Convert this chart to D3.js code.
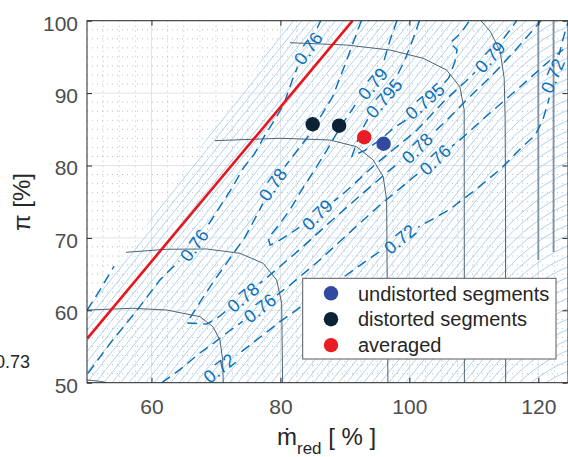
<!DOCTYPE html>
<html><head><meta charset="utf-8">
<script src="https://cdn.jsdelivr.net/npm/d3@7"></script>
<style>
body{margin:0;background:#fff}
svg{display:block}
text{font-family:"Liberation Sans",Arial,Helvetica,sans-serif}
</style>
</head><body>
<svg id="chart" width="568" height="457"></svg>
<script>
// ---------------- data ----------------
const xDomain = [50, 124.6];
const yDomain = [50, 100];
const xTicks = [60, 80, 100, 120];
const yTicks = [50, 60, 70, 80, 90, 100];
const xMinorStep = 2.5, yMinorStep = 1.25;

const surgeLine = [[50.05, 56.13], [91.19, 100]];
const undistorted = [[96.0, 83.0]];
const distorted = [[85.0, 85.7], [89.1, 85.5]];
const averaged = [[93.0, 83.9]];
const legendNames = ["undistorted segments", "distorted segments", "averaged"];

// speed lines
const speedA = [[50.0, 50.37], [52.0, 50.2], [53.1, 50.0]];
const speedB = [[50.05, 60.04], [57.13, 60.28], [62.36, 60.04], [67.52, 59.12], [69.53, 57.73], [70.62, 55.90], [71.04, 53.14], [71.13, 50.0]];
const speedC = [[56.05, 68.01], [62.36, 68.43], [68.56, 68.47], [73.72, 67.87], [77.33, 66.49], [79.41, 64.19], [80.19, 60.97], [80.34, 50.0]];
const speedD = [[69.84, 83.43], [79.92, 83.76], [87.67, 83.52], [91.81, 82.60], [94.39, 80.76], [95.94, 78.45], [96.47, 75.23], [96.67, 50.0]];
const speedE = [[81.47, 96.96], [90.26, 96.64], [96.98, 95.95], [102.14, 94.81], [105.77, 93.19], [107.83, 90.88], [108.50, 87.67], [108.53, 50.0]];
const speedF = [[110.73, 100.37], [112.53, 98.54], [114.08, 95.77], [114.70, 92.09], [114.85, 86.56], [114.91, 74.96], [114.93, 50.0]];
const chokeG = [[120.0, 100.2], [120.0, 66.95]];
const chokeH = [[122.36, 100.2], [122.36, 68.05]];

// efficiency contours
const eta073 = [[50.0, 60.0], [52.0, 62.8], [54.2, 66.1]];
const eta076a = [[50.16, 51.3], [53.9, 55.8], [57.75, 60.0], [61.3, 64.2], [63.95, 66.5], [66.6, 69.0], [69.1, 72.2], [72.2, 76.5], [74.3, 79.7], [75.9, 81.5], [77.6, 84.2], [79.0, 86.15], [80.5, 88.4], [81.8, 91.7], [82.6, 93.5], [84.3, 96.2], [85.7, 99.0], [86.3, 100.1]];
const eta076b = [[61.6, 50.0], [64.4, 51.8], [67.5, 54.1], [69.7, 55.5], [71.7, 56.9], [74.5, 58.7], [76.8, 60.3], [81.5, 63.5], [86.1, 66.95], [90.8, 70.8], [95.4, 74.5], [100.1, 78.0], [104.0, 80.8], [107.8, 83.5], [112.5, 87.25], [117.1, 90.8], [121.0, 93.9], [124.6, 96.6]];
const eta078 = [[92.6, 100.1], [92.0, 98.7], [90.3, 94.6], [88.1, 89.5], [86.4, 87.0], [84.1, 83.8], [81.5, 80.8], [78.8, 77.6], [76.8, 73.9], [74.5, 70.1], [72.2, 67.2], [69.8, 64.2], [67.5, 61.1], [65.5, 58.25], [68.6, 58.1], [70.6, 59.2], [72.5, 60.6], [74.2, 61.8], [78.4, 64.9], [83.0, 68.4], [87.7, 72.2], [92.3, 75.8], [97.0, 79.4], [101.2, 82.4], [105.5, 86.0], [109.4, 89.5], [113.3, 92.9], [117.1, 96.6], [120.5, 100.1]];
const eta079 = [[98.1, 100.1], [97.0, 97.3], [96.0, 94.3], [94.3, 91.3], [92.6, 89.7], [91.1, 87.7], [89.2, 85.2], [87.4, 82.4], [85.3, 79.4], [83.0, 76.2], [81.5, 73.9], [79.6, 71.6], [78.1, 70.0], [78.4, 69.0], [79.1, 69.3], [79.9, 69.7], [82.1, 70.95], [85.7, 73.2], [90.0, 76.3], [94.65, 80.1], [101.2, 84.9], [105.5, 89.0], [108.6, 91.5], [110.9, 93.5], [112.5, 95.0], [114.0, 96.8], [115.6, 98.7], [116.7, 100.1]];
const eta0795 = [[101.6, 100.1], [100.5, 97.3], [99.3, 94.6], [97.75, 91.8], [96.05, 89.3], [94.2, 87.4], [92.6, 84.9], [91.7, 82.8], [91.1, 81.3], [93.1, 82.1], [95.4, 83.5], [97.6, 85.2], [99.15, 86.1], [102.4, 88.9], [104.7, 90.7], [106.1, 92.1], [107.05, 94.3], [107.4, 96.0], [106.3, 96.9], [108.1, 98.4], [109.4, 100.1]];
const eta072 = [[68.3, 50.0], [70.5, 52.0], [75.3, 55.2], [79.9, 58.4], [84.6, 61.4], [89.2, 64.2], [93.1, 66.7], [96.2, 68.6], [98.5, 69.85], [101.6, 71.6], [106.1, 73.85], [110.2, 76.6], [114.0, 79.4], [117.1, 82.2], [119.5, 84.2], [120.7, 86.3], [121.6, 89.0], [122.4, 92.4], [123.2, 95.3], [124.0, 98.0], [124.6, 99.8]];

// contour labels: text, position, angle
const labelTexts = ["0.76", "0.79", "0.795", "0.795", "0.78", "0.76", "0.79", "0.72", "0.78", "0.79", "0.76", "0.78", "0.76", "0.72", "0.72"];
const labelPos = [[84.3, 96.2], [94.3, 91.3], [96.05, 89.3], [102.4, 88.9], [101.2, 82.4], [104.0, 80.8], [112.5, 95.0], [122.2, 92.4], [78.8, 77.4], [85.7, 73.2], [66.6, 69.0], [74.2, 61.8], [76.8, 60.3], [70.5, 52.0], [98.5, 69.85]];
const labelAngles = [-54, -50, -49, -41, -45, -43, -47, -67, -55, -45, -54, -40, -38, -39, -40];

// light-blue line family: mass flow where each line meets pi = 50
const hatchIntercepts = [37.0, 38.3, 39.6, 40.9, 42.2, 43.5, 44.8, 46.1, 47.4, 48.7, 50.0, 51.3, 52.6, 53.9, 55.2, 56.5, 57.8, 59.1, 60.4, 61.7, 63.0, 64.3, 65.6, 66.9, 68.2, 69.5, 70.8, 72.1, 73.4, 74.7, 76.0, 77.3, 78.6, 79.9, 81.2, 82.5, 83.8, 85.1, 86.4, 87.7, 89.0, 90.3, 91.6, 92.9, 94.2, 95.5, 96.8, 98.1, 99.4, 100.7, 102.0, 103.3, 104.6, 105.9, 107.2, 108.5, 109.8, 111.1, 112.4, 113.7, 115.0, 116.3, 117.6, 118.9, 120.2, 121.5, 122.8, 124.1];
const hatchSlope = 1.11, hatchBend = 112, hatchCurv = 0.03;
const hatchBoundary = [[42.2, 50], [81.3, 100]];

// ---------------- drawing ----------------
const W = 568, H = 457;
const PL = 87, PR = 568, PT = 20.7, PB = 382.7;
const x = d3.scaleLinear().domain(xDomain).range([PL, PR]);
const y = d3.scaleLinear().domain(yDomain).range([PB, PT]);
const svg = d3.select("#chart");
const defs = svg.append("defs");
defs.append("clipPath").attr("id", "plotclip").append("rect")
  .attr("x", PL).attr("y", PT).attr("width", PR - PL).attr("height", PB - PT);
defs.append("clipPath").attr("id", "hatchclip").append("polygon")
  .attr("points", [hatchBoundary[0], hatchBoundary[1], [140, 100], [140, 40], [30, 40]]
    .map(p => [x(p[0]), y(p[1])].join(",")).join(" "));

svg.append("rect").attr("width", W).attr("height", H).attr("fill", "#fff");

const plot = svg.append("g").attr("clip-path", "url(#plotclip)");

// minor grid
const xMinor = d3.range(xDomain[0], xDomain[1] + 0.01, xMinorStep).filter(v => !xTicks.includes(v) && v > xDomain[0]);
const yMinor = d3.range(yDomain[0], yDomain[1] + 0.01, yMinorStep).filter(v => !yTicks.includes(v));
plot.append("g").selectAll("line").data(xMinor).join("line")
  .attr("x1", d => x(d)).attr("x2", d => x(d)).attr("y1", PT).attr("y2", PB)
  .attr("stroke", "#b0b0b0").attr("stroke-width", 0.8).attr("stroke-dasharray", "1,4");
plot.append("g").selectAll("line").data(yMinor).join("line")
  .attr("y1", d => y(d)).attr("y2", d => y(d)).attr("x1", PL).attr("x2", PR)
  .attr("stroke", "#b0b0b0").attr("stroke-width", 0.8).attr("stroke-dasharray", "1,4");
// major grid
plot.append("g").selectAll("line").data(xTicks).join("line")
  .attr("x1", d => x(d)).attr("x2", d => x(d)).attr("y1", PT).attr("y2", PB)
  .attr("stroke", "#e3e3e3").attr("stroke-width", 1);
plot.append("g").selectAll("line").data(yTicks).join("line")
  .attr("y1", d => y(d)).attr("y2", d => y(d)).attr("x1", PL).attr("x2", PR)
  .attr("stroke", "#e3e3e3").attr("stroke-width", 1);

const line = d3.line().x(d => x(d[0])).y(d => y(d[1]));

// hatch lines
function hatchPath(c) {
  const pts = [];
  for (let m = c; m <= xDomain[1] + 0.6; m += 0.4) {
    let p = 50 + hatchSlope * (m - c);
    if (m > hatchBend) p -= hatchCurv * (m - hatchBend) * (m - hatchBend);
    pts.push([m, p]);
    if (p > 101) break;
  }
  return pts;
}
plot.append("g").attr("clip-path", "url(#hatchclip)")
  .selectAll("path").data(hatchIntercepts).join("path")
  .attr("d", c => line(hatchPath(c)))
  .attr("fill", "none").attr("stroke", "#a3cdee").attr("stroke-width", 0.9);

// speed lines
const speedLines = [speedA, speedB, speedC, speedD, speedE, speedF];
plot.append("g").selectAll("path").data(speedLines).join("path")
  .attr("d", line).attr("fill", "none").attr("stroke", "#4c6376").attr("stroke-width", 1);
plot.append("g").selectAll("path").data([chokeG, chokeH]).join("path")
  .attr("d", line).attr("fill", "none").attr("stroke", "#7f93a3").attr("stroke-width", 1.8);

// contour labels + mask for gaps
const labelSize = 18;
const mask = defs.append("mask").attr("id", "lblmask").attr("maskUnits", "userSpaceOnUse")
  .attr("x", 0).attr("y", 0).attr("width", W).attr("height", H);
mask.append("rect").attr("width", W).attr("height", H).attr("fill", "#fff");

const contours = [eta073, eta076a, eta076b, eta078, eta079, eta0795, eta072];
plot.append("g").attr("mask", "url(#lblmask)").selectAll("path").data(contours).join("path")
  .attr("d", line).attr("fill", "none").attr("stroke", "#0a70b8").attr("stroke-width", 1.45)
  .attr("stroke-dasharray", "10,6");

const lblG = svg.append("g");
labelTexts.forEach((t, i) => {
  const px = x(labelPos[i][0]), py = y(labelPos[i][1]);
  const tx = lblG.append("text").text(t)
    .attr("transform", `translate(${px},${py}) rotate(${labelAngles[i]})`)
    .attr("text-anchor", "middle").attr("dy", "0.36em")
    .attr("font-size", labelSize).attr("fill", "#0a70b8");
  const w = tx.node().getComputedTextLength();
  mask.append("rect").attr("x", -w / 2 - 4).attr("y", -labelSize * 0.45).attr("width", w + 8).attr("height", labelSize * 0.9)
    .attr("transform", `translate(${px},${py}) rotate(${labelAngles[i]})`).attr("fill", "#000");
});

// surge line
plot.append("path").attr("d", line(surgeLine)).attr("fill", "none")
  .attr("stroke", "#e8151d").attr("stroke-width", 2.6);

// points
const colors = ["#2f4a9f", "#0c2336", "#e81d25"];
[undistorted, distorted, averaged].forEach((arr, k) => {
  svg.append("g").selectAll("circle").data(arr).join("circle")
    .attr("cx", d => x(d[0])).attr("cy", d => y(d[1])).attr("r", 7.2).attr("fill", colors[k]);
});

// axes
const axG = svg.append("g").attr("font-size", 21);
const axBottom = axG.append("g").attr("transform", `translate(0,${PB})`)
  .call(d3.axisBottom(x).tickValues(xTicks).tickSize(-5).tickPadding(16));
const axLeft = axG.append("g").attr("transform", `translate(${PL},0)`)
  .call(d3.axisLeft(y).tickValues(yTicks).tickSize(-5).tickPadding(9));
const axTop = axG.append("g").attr("transform", `translate(0,${PT})`)
  .call(d3.axisTop(x).tickValues(xTicks).tickSize(-5).tickFormat(""));
const axRight = axG.append("g").attr("transform", `translate(${PR - 0.5},0)`)
  .call(d3.axisRight(y).tickValues(yTicks).tickSize(-5).tickFormat(""));
[axBottom, axLeft, axTop, axRight].forEach(g => {
  g.select(".domain").remove();
  g.selectAll(".tick line").attr("stroke", "#262626");
  g.selectAll(".tick text").attr("fill", "#4d4d4d").attr("font-size", 21)
    .attr("font-family", "Liberation Sans, Arial, sans-serif");
});
axLeft.selectAll(".tick text").attr("dy", "0.45em");
svg.append("rect").attr("x", PL).attr("y", PT).attr("width", PR - PL).attr("height", PB - PT)
  .attr("fill", "none").attr("stroke", "#262626").attr("stroke-width", 1);

// legend
const lg = svg.append("g");
lg.append("rect").attr("x", 302.7).attr("y", 278.3).attr("width", 253.3).attr("height", 80.7)
  .attr("fill", "#fff").attr("stroke", "#5a5a5a").attr("stroke-width", 1);
legendNames.forEach((n, i) => {
  const cy = 293.3 + i * 25.9;
  lg.append("circle").attr("cx", 331).attr("cy", cy).attr("r", 7.2).attr("fill", colors[i]);
  lg.append("text").attr("x", 358).attr("y", cy).attr("dy", "0.36em").attr("font-size", 20)
    .attr("fill", "#262626").text(n);
});

// axis labels
const xl = svg.append("text").attr("x", 277).attr("y", 445).attr("font-size", 24).attr("fill", "#262626");
xl.append("tspan").text("ṁ");
xl.append("tspan").attr("font-size", 17).attr("dy", 9).text("red");
xl.append("tspan").attr("dy", -9).text(" [ % ]");
svg.append("text").attr("transform", "translate(30,202) rotate(-90)").attr("text-anchor", "middle")
  .attr("font-size", 24).attr("fill", "#262626").text("π [%]");

// stray contour label outside the axes (cut by the left edge, as in the reference)
svg.append("text").attr("x", -5).attr("y", 368).attr("font-size", 18).attr("fill", "#262626").text("0.73");
</script>
</body></html>
